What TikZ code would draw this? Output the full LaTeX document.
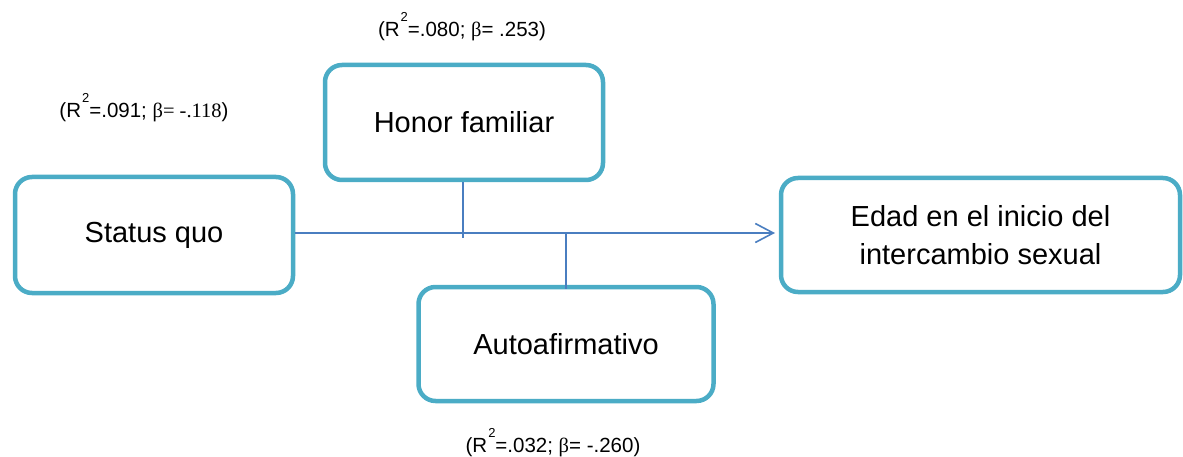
\documentclass[tikz,border=0pt]{standalone}
\usepackage{fontspec}
\setmainfont{Liberation Sans}
\newfontfamily\serifgr{Liberation Serif}
\usetikzlibrary{arrows.meta}
\definecolor{boxc}{RGB}{75,172,198}
\definecolor{linec}{RGB}{74,126,192}
\newcommand{\sqtwo}{\hspace{1pt}\raisebox{15pt}{\fontsize{13}{13}\selectfont 2}}
\tikzset{
  box/.style={draw=boxc, line width=4.5pt, rounded corners=17pt, fill=white,
    inner sep=0pt, font=\fontsize{29}{37.7}\selectfont, align=center, text=black},
  conn/.style={draw=linec, line width=1.6pt},
  lbl/.style={inner sep=0pt, anchor=base, font=\fontsize{20.5}{24}\selectfont, text=black}
}
\begin{document}
\begin{tikzpicture}[x=1pt,y=-1pt]
\useasboundingbox (0,0) rectangle (1183,457);
\node[box, minimum width=278pt, minimum height=116pt] (sq) at (154,235) {Status quo};
\node[box, minimum width=278pt, minimum height=115pt] (hon) at (464,122.5) {Honor familiar};
\node[box, minimum width=295pt, minimum height=114pt] (aut) at (566,344) {Autoafirmativo};
\node[box, minimum width=399pt, minimum height=114pt] (eda) at (980.5,235) {Edad en el inicio del\\intercambio sexual};
\coordinate (j) at (463,233);
\coordinate (v1end) at (463,238);
\draw[conn, -{Straight Barb[length=18pt,width=19pt,line width=1.6pt]}, shorten >=3.75pt] (sq.east |- j) -- (eda.west |- j);
\draw[conn] (j |- hon.south) -- (v1end);
\draw[conn] (aut.north |- j) -- ([yshift=-4pt]aut.north);
\node[lbl] (l1) at (462,37) {(R\sqtwo=.080; {\serifgr β}= .253)};
\node[lbl] (l2) at (144,118) {(R\sqtwo=.091; {\serifgr β= -.118})};
\node[lbl] (l3) at (553,452) {(R\sqtwo=.032; {\serifgr β}= -.260)};
\end{tikzpicture}
\end{document}
